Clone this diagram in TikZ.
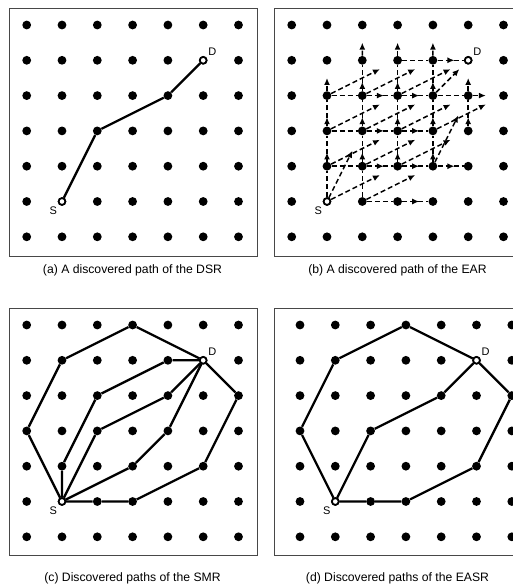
\documentclass[tikz,border=0pt]{standalone}
\usepackage{fontspec}
\setmainfont{Liberation Sans}
\usetikzlibrary{arrows.meta,calc,decorations.markings}
\definecolor{FrameGray}{RGB}{72,72,72}

\tikzset{
  griddot/.style={circle,fill=black,inner sep=0pt,minimum size=8.8pt},
  endpt/.style={circle,draw=black,fill=white,line width=1.6pt,inner sep=0pt,minimum size=6.6pt},
  endlbl/.style={font=\fontsize{11}{13}\selectfont,inner sep=0pt},
  panelframe/.style={draw=FrameGray,line width=0.8pt},
  route/.style={line width=2.3pt,line join=round},
  flood/.style={line width=1.5pt,dash pattern=on 5pt off 3pt},
  headed/.style={-{Latex[length=7pt,width=6pt]}},
  midtip/.style={postaction={decorate},
    decoration={markings,mark=at position #1 with {\arrow{Latex[length=7pt,width=6pt]}}}},
  subcap/.style={font=\fontsize{12.2}{14}\selectfont}
}

% 7x7 node grid, S at (1,5), D at (5,1)
\newcommand{\nodegrid}[3]{%
  \foreach \ci in {0,...,6}{\foreach \ri in {0,...,6}{%
    \node[griddot] (#1-\ci-\ri) at ({#2+\ci*35.3},{#3+\ri*35.3}) {};}}%
  \node[endpt] (#1-S) at (#1-1-5) {};
  \node[endpt] (#1-D) at (#1-5-1) {};
  \node[endlbl] (#1-Slbl) at ([shift={(-8.6,9.5)}]#1-S) {S};
  \node[endlbl] (#1-Dlbl) at ([shift={(9.2,-9)}]#1-D) {D};
}

\begin{document}
\begin{tikzpicture}[x=1pt,y=-1pt]
\fill[white] (0,0) rectangle (513,587);
\useasboundingbox (0,0) rectangle (513,587);

% panel frames
\draw[panelframe] (9.3,8) rectangle (257,256.5);
\draw[panelframe] (274,8) rectangle (522,256.5);
\draw[panelframe] (9.3,308) rectangle (257,555.5);
\draw[panelframe] (274,308) rectangle (522,555.5);

\nodegrid{a}{26.7}{25}
\nodegrid{b}{291.7}{25}
\nodegrid{c}{26.7}{325}
\nodegrid{d}{300}{325}

% (a) DSR
\draw[route] (a-S) -- (a-2-3) -- (a-4-2) -- (a-D);

% (b) EAR flooding
\foreach \ci/\ri in {1/5,2/5}{
  \pgfmathtruncatemacro\up{\ri-1}
  \draw[flood] (b-\ci-\ri) -- (b-\ci-\up);
}
\foreach \ci/\ri in {1/4,1/3,2/4,2/3,2/2,3/4,3/3,3/2,4/4,4/3,4/2,5/3}{
  \pgfmathtruncatemacro\up{\ri-1}
  \draw[flood,midtip=0.35] (b-\ci-\ri) -- (b-\ci-\up);
}
\foreach \ci/\ri in {1/2,2/1,3/1,4/1,5/2}{
  \pgfmathtruncatemacro\up{\ri-1}
  \draw[flood,headed] (b-\ci-\ri) -- ($(b-\ci-\ri)!0.5!(b-\ci-\up)$);
}
\foreach \ci/\ri in {1/2,1/3,1/4,2/5,3/1,4/2}{
  \pgfmathtruncatemacro\nx{\ci+1}
  \draw[flood] (b-\ci-\ri) -- (b-\nx-\ri);
}
\foreach \ci/\ri in {2/2,3/2,2/3,3/3,2/4,3/4,4/4,3/5,4/1}{
  \pgfmathtruncatemacro\nx{\ci+1}
  \draw[flood,midtip=0.65] (b-\ci-\ri) -- (b-\nx-\ri);
}
\draw[flood,headed] (b-5-2) -- ($(b-5-2)!0.5!(b-6-2)$);
\foreach \ci/\ri in {1/2,2/2,3/2,1/3,2/3,3/3,4/3,1/4,2/4,3/4,1/5,2/5}{
  \pgfmathtruncatemacro\nx{\ci+2}
  \pgfmathtruncatemacro\up{\ri-1}
  \draw[flood,headed] (b-\ci-\ri) -- ($(b-\ci-\ri)!0.75!(b-\nx-\up)$);
}
\draw[flood,headed] (b-S) -- ($(b-S)!0.72!(b-2-3)$);
\draw[flood,headed] (b-4-4) -- ($(b-4-4)!0.72!(b-5-2)$);
\draw[flood,headed] (b-4-2) -- ($(b-4-2)!0.75!(b-D)$);

% (c) SMR
\draw[route] (c-S) -- (c-0-3) -- (c-1-1) -- (c-3-0) -- (c-D);
\draw[route] (c-S) -- (c-1-4) -- (c-2-2) -- (c-4-1) -- (c-D);
\draw[route] (c-S) -- (c-2-3) -- (c-4-2) -- (c-D);
\draw[route] (c-S) -- (c-3-4) -- (c-4-3) -- (c-D);
\draw[route] (c-S) -- (c-2-5) -- (c-3-5) -- (c-5-4) -- (c-6-2) -- (c-D);

% (d) EASR
\draw[route] (d-S) -- (d-0-3) -- (d-1-1) -- (d-3-0) -- (d-D);
\draw[route] (d-S) -- (d-2-3) -- (d-4-2) -- (d-D);
\draw[route] (d-S) -- (d-2-5) -- (d-3-5) -- (d-5-4) -- (d-6-2) -- (d-D);

% captions
\node[subcap] (cap-a) at (132.5,270.5) {(a) A discovered path of the DSR};
\node[subcap] (cap-b) at (397.5,270.5) {(b) A discovered path of the EAR};
\node[subcap] (cap-c) at (132.5,578.5) {(c) Discovered paths of the SMR};
\node[subcap] (cap-d) at (397.5,578.5) {(d) Discovered paths of the EASR};
\end{tikzpicture}
\end{document}
